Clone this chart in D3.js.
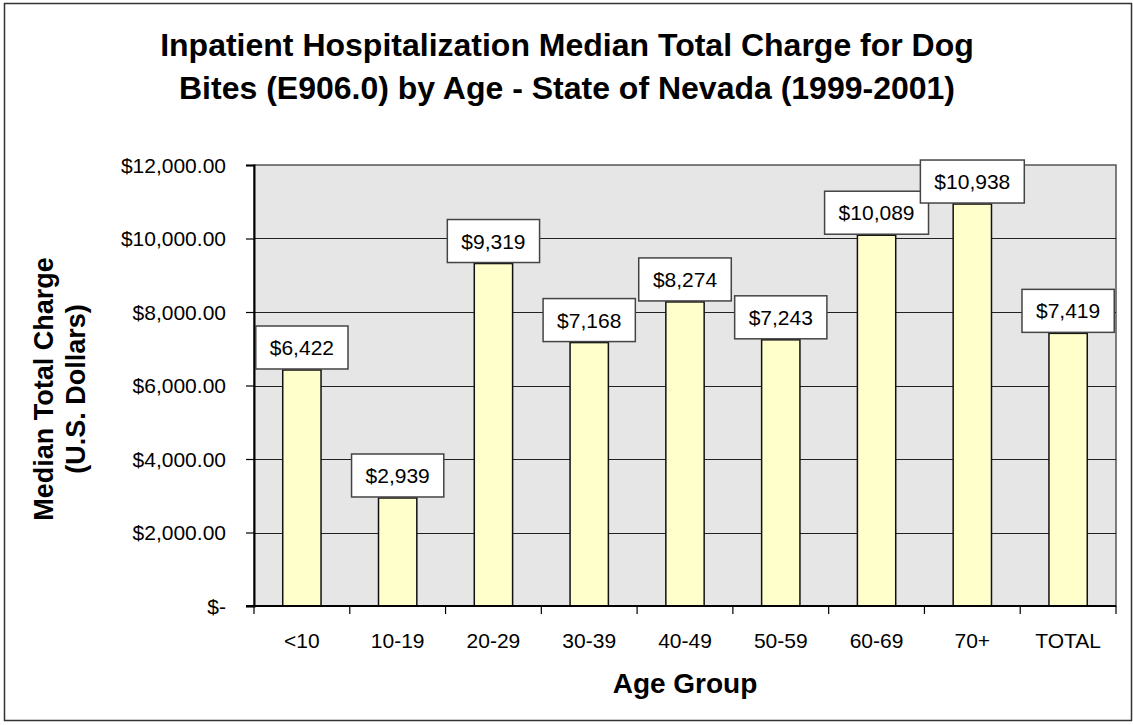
<!DOCTYPE html>
<html>
<head>
<meta charset="utf-8">
<script src="https://cdn.jsdelivr.net/npm/d3@7"></script>
<style>
  html, body { margin: 0; padding: 0; background: #fff; }
  svg { display: block; font-family: "Liberation Sans", Arial, sans-serif; }
</style>
</head>
<body>
<div id="chart"></div>
<script>
const ageGroups = ["<10", "10-19", "20-29", "30-39", "40-49", "50-59", "60-69", "70+", "TOTAL"];
const medianCharge = [6422, 2939, 9319, 7168, 8274, 7243, 10089, 10938, 7419];
const yTicks = [0, 2000, 4000, 6000, 8000, 10000, 12000];
const titleLines = [
  "Inpatient Hospitalization Median Total Charge for Dog",
  "Bites (E906.0) by Age - State of Nevada (1999-2001)"
];
const yTitleLines = ["Median Total Charge", "(U.S. Dollars)"];
const xTitle = "Age Group";

let width = 1133;
let height = 725;
let plot = { left: 254, right: 1116, top: 165, bottom: 606 };

let svg = d3.select("#chart")
  .append("svg")
  .attr("width", width)
  .attr("height", height);

/* outer frame */
svg.append("rect")
  .attr("x", 4.5).attr("y", 3.5)
  .attr("width", 1127).attr("height", 717)
  .attr("fill", "#fff")
  .attr("stroke", "#333")
  .attr("stroke-width", 1.5);

/* scales */
let xScale = d3.scaleBand()
  .domain(ageGroups)
  .range([plot.left, plot.right])
  .padding(0);

let yScale = d3.scaleLinear()
  .domain([0, 12000])
  .range([plot.bottom, plot.top]);

/* plot background */
svg.append("rect")
  .attr("x", plot.left).attr("y", plot.top)
  .attr("width", plot.right - plot.left)
  .attr("height", plot.bottom - plot.top)
  .attr("fill", "#e6e6e6")
  .attr("stroke", "#555")
  .attr("stroke-width", 1.5);

/* gridlines */
svg.append("g")
  .selectAll("line")
  .data(yTicks.filter(d => d > 0 && d < 12000))
  .enter()
  .append("line")
  .attr("x1", plot.left).attr("x2", plot.right)
  .attr("y1", d => Math.round(yScale(d)) + 0.5)
  .attr("y2", d => Math.round(yScale(d)) + 0.5)
  .attr("stroke", "#222")
  .attr("stroke-width", 1);

/* y axis */
let fmt = d3.format(",.2f");
let yAxis = d3.axisLeft(yScale)
  .tickValues(yTicks)
  .tickSize(8)
  .tickPadding(20)
  .tickFormat(d => d === 0 ? "$-" : "$" + fmt(d));

let gy = svg.append("g")
  .attr("transform", `translate(${plot.left}, 0)`)
  .call(yAxis);
gy.select(".domain").attr("stroke", "#000").attr("stroke-width", 2);
gy.selectAll(".tick line").attr("stroke", "#000").attr("stroke-width", 1.2);
gy.selectAll(".tick text")
  .attr("font-size", 21)
  .attr("fill", "#000")
  .attr("dy", "0.35em");

/* bars */
let barW = xScale.bandwidth() * 0.4;
svg.append("g")
  .selectAll("rect")
  .data(ageGroups)
  .enter()
  .append("rect")
  .attr("x", d => xScale(d) + (xScale.bandwidth() - barW) / 2)
  .attr("y", (d, i) => yScale(medianCharge[i]))
  .attr("width", barW)
  .attr("height", (d, i) => plot.bottom - yScale(medianCharge[i]))
  .attr("fill", "#ffffcc")
  .attr("stroke", "#111")
  .attr("stroke-width", 1.5);

/* x axis */
svg.append("line")
  .attr("x1", plot.left - 8).attr("x2", plot.right)
  .attr("y1", plot.bottom).attr("y2", plot.bottom)
  .attr("stroke", "#000")
  .attr("stroke-width", 2);

let xTickPos = ageGroups.map(d => xScale(d)).concat([xScale.range()[1]]);
svg.append("g")
  .selectAll("line")
  .data(xTickPos)
  .enter()
  .append("line")
  .attr("x1", d => d).attr("x2", d => d)
  .attr("y1", plot.bottom).attr("y2", plot.bottom + 8)
  .attr("stroke", "#000")
  .attr("stroke-width", 1.2);

svg.append("g")
  .selectAll("text")
  .data(ageGroups)
  .enter()
  .append("text")
  .attr("x", d => xScale(d) + xScale.bandwidth() / 2)
  .attr("y", 648)
  .attr("text-anchor", "middle")
  .attr("font-size", 21)
  .text(d => d);

/* value labels */
let fmtVal = d3.format("$,");
let labels = svg.append("g")
  .selectAll("g")
  .data(ageGroups)
  .enter()
  .append("g");

labels.append("text")
  .attr("x", d => xScale(d) + xScale.bandwidth() / 2)
  .attr("y", (d, i) => yScale(medianCharge[i]) - 1 - 21.5 + 7.5)
  .attr("text-anchor", "middle")
  .attr("font-size", 21)
  .text((d, i) => fmtVal(medianCharge[i]));

labels.each(function () {
  let g = d3.select(this);
  let t = g.select("text");
  let bb = t.node().getBBox();
  let cx = +t.attr("x");
  let by = +t.attr("y") - 7.5 - 21.5;
  g.insert("rect", "text")
    .attr("x", cx - bb.width / 2 - 14)
    .attr("y", by)
    .attr("width", bb.width + 28)
    .attr("height", 43)
    .attr("fill", "#fff")
    .attr("stroke", "#444")
    .attr("stroke-width", 1.5);
});

/* title */
svg.append("g")
  .selectAll("text")
  .data(titleLines)
  .enter()
  .append("text")
  .attr("x", 567)
  .attr("y", (d, i) => 56 + i * 43)
  .attr("text-anchor", "middle")
  .attr("font-size", 32)
  .attr("font-weight", "bold")
  .text(d => d);

/* y title */
svg.append("g")
  .attr("transform", "translate(0, 389) rotate(-90)")
  .selectAll("text")
  .data(yTitleLines)
  .enter()
  .append("text")
  .attr("x", 0)
  .attr("y", (d, i) => 53 + i * 32)
  .attr("text-anchor", "middle")
  .attr("font-size", 27)
  .attr("font-weight", "bold")
  .text(d => d);

/* x title */
svg.append("text")
  .attr("x", (plot.left + plot.right) / 2)
  .attr("y", 693)
  .attr("text-anchor", "middle")
  .attr("font-size", 28)
  .attr("font-weight", "bold")
  .text(xTitle);
</script>
</body>
</html>
